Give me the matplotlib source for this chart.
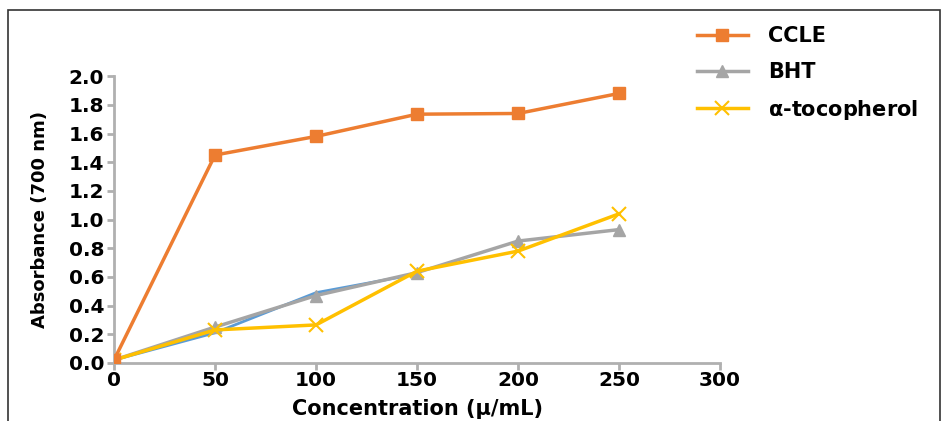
import numpy as np
import matplotlib
matplotlib.use('Agg')
import matplotlib.pyplot as plt
from matplotlib.patches import Rectangle

conc = [0, 50, 100, 150, 200, 250]
ccle = [0.02, 1.45, 1.58, 1.735, 1.74, 1.88]
bht = [0.02, 0.25, 0.47, 0.63, 0.85, 0.93]
toco = [0.02, 0.23, 0.265, 0.64, 0.78, 1.04]
# faint blue trace hidden under BHT in the original
blue_conc = [0, 50, 100, 150]
blue = [0.02, 0.21, 0.49, 0.62]

fig = plt.figure(figsize=(9.5, 4.21), dpi=100)
ax = fig.add_axes([0.12, 0.138, 0.638, 0.681])

ax.plot(blue_conc, blue, '-', color='#5b9bd5', lw=2, zorder=2)
ax.plot(conc, bht, '-^', color='#a5a5a5', lw=2.5, markersize=9, label='BHT', zorder=3)
ax.plot(conc, toco, '-x', color='#ffc000', lw=2.5, markersize=10, mew=1.5,
        label=r'$\mathbf{\alpha}$-tocopherol', zorder=4)
ax.plot(conc, ccle, '-s', color='#ed7d31', lw=2.5, markersize=8, label='CCLE', zorder=5)

ax.set_xlim(0, 300)
ax.set_ylim(0, 2.0)
ax.set_xticks([0, 50, 100, 150, 200, 250, 300])
ax.set_yticks(np.arange(0, 2.01, 0.2))
ax.set_yticklabels([f'{v:.1f}' for v in np.arange(0, 2.01, 0.2)])

for s in ['top', 'right']:
    ax.spines[s].set_visible(False)
for s in ['left', 'bottom']:
    ax.spines[s].set_color('#b0b0b0')
    ax.spines[s].set_linewidth(2)
ax.tick_params(colors='#b0b0b0', width=2, length=5, direction='out')
for lbl in ax.get_xticklabels() + ax.get_yticklabels():
    lbl.set_color('black')
    lbl.set_fontweight('heavy')
    lbl.set_fontsize(14.5)
ax.tick_params(axis='x', pad=1)
ax.tick_params(axis='y', pad=2)

ax.set_xlabel('Concentration (μ/mL)', fontsize=15, fontweight='heavy', labelpad=6)
ax.set_ylabel('Absorbance (700 nm)', fontsize=13, fontweight='heavy', labelpad=14)

h, l = ax.get_legend_handles_labels()
order = [2, 0, 1]
ax.legend([h[i] for i in order], [l[i] for i in order],
          loc='upper left', bbox_to_anchor=(0.7135, 0.982), bbox_transform=fig.transFigure,
          frameon=False, handlelength=2.45, handletextpad=1.0, labelspacing=0.75,
          prop={'weight': 'heavy', 'size': 15})

fig.patches.append(Rectangle((8 / 950, -0.01), 932 / 950, 1 - 10 / 421 + 0.01,
                             transform=fig.transFigure, fill=False,
                             edgecolor='#333333', lw=1.2))

fig.savefig('out.png', dpi=100)
